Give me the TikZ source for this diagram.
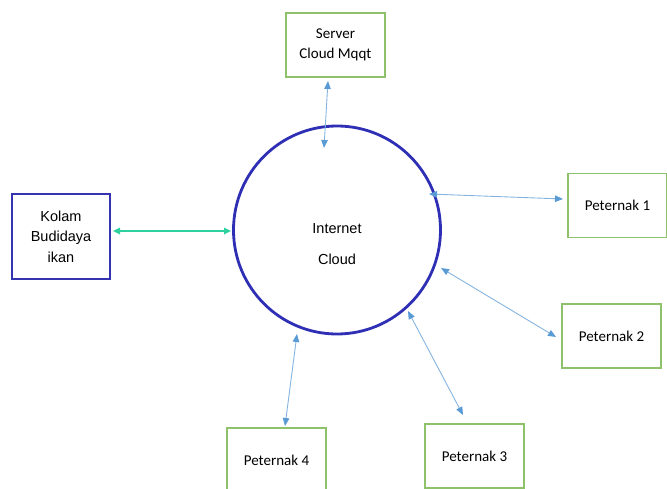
\documentclass[tikz,border=0pt]{standalone}
\usepackage{fontspec}
\setmainfont{Liberation Sans}
\newfontfamily\calib{Carlito}
\usetikzlibrary{arrows.meta,shapes.geometric}
\definecolor{gbox}{HTML}{8DC26A}
\definecolor{bbox}{HTML}{3434B0}
\definecolor{ell}{HTML}{2F2FB5}
\definecolor{arr}{HTML}{5B9BD5}
\definecolor{teal}{HTML}{2FD0A0}
\tikzset{
  greenbox/.style={draw=gbox,line width=1.6pt,minimum width=99pt,minimum height=64pt,inner sep=0pt,align=center,font=\calib\fontsize{15}{20}\selectfont},
  bluebox/.style={draw=bbox,line width=2.6pt,minimum width=98pt,minimum height=85pt,inner sep=0pt,align=center,font=\fontsize{14.5}{20.5}\selectfont},
  link/.style={draw=arr!75,line width=0.9pt,{Triangle[length=8pt,width=6.5pt,fill=arr,color=arr]}-{Triangle[length=8pt,width=6.5pt,fill=arr,color=arr]}},
  tlink/.style={draw=teal,line width=1.6pt,{Triangle[length=7pt,width=6.5pt]}-{Triangle[length=7pt,width=6.5pt]}}
}
\begin{document}
\begin{tikzpicture}[x=1pt,y=-1pt]
\useasboundingbox (0,0) rectangle (667,488);
\node[ellipse,draw=ell,line width=2.8pt,minimum width=207pt,minimum height=208pt,inner sep=0pt] (cloud) at (337,230) {};
\node[align=center,font=\fontsize{14.5}{31}\selectfont] (ctext) at (337,244) {Internet\\Cloud};
\node[greenbox] (server) at (335.5,45) {Server\\Cloud Mqqt};
\node[bluebox] (kolam) at (61,236.5) {Kolam\\Budidaya\\ikan};
\node[greenbox] (p1) at (617.5,205.5) {Peternak 1};
\node[greenbox] (p2) at (611.5,336) {Peternak 2};
\node[greenbox] (p3) at (474.5,456) {Peternak 3};
\node[greenbox] (p4) at (276.5,460) {Peternak 4};
\coordinate (a1) at (328,81);   \coordinate (b1) at (324,148);
\coordinate (a2) at (113,231);  \coordinate (b2) at (231,231);
\coordinate (a3) at (429,194);  \coordinate (b3) at (563,199);
\coordinate (a4) at (441,268);  \coordinate (b4) at (556,337);
\coordinate (a5) at (408,311);  \coordinate (b5) at (463,415);
\coordinate (a6) at (297,334);  \coordinate (b6) at (285,426);
\draw[link] (a1) -- (b1);
\draw[tlink] (a2) -- (b2);
\draw[link] (a3) -- (b3);
\draw[link] (a4) -- (b4);
\draw[link] (a5) -- (b5);
\draw[link] (a6) -- (b6);
\end{tikzpicture}
\end{document}
